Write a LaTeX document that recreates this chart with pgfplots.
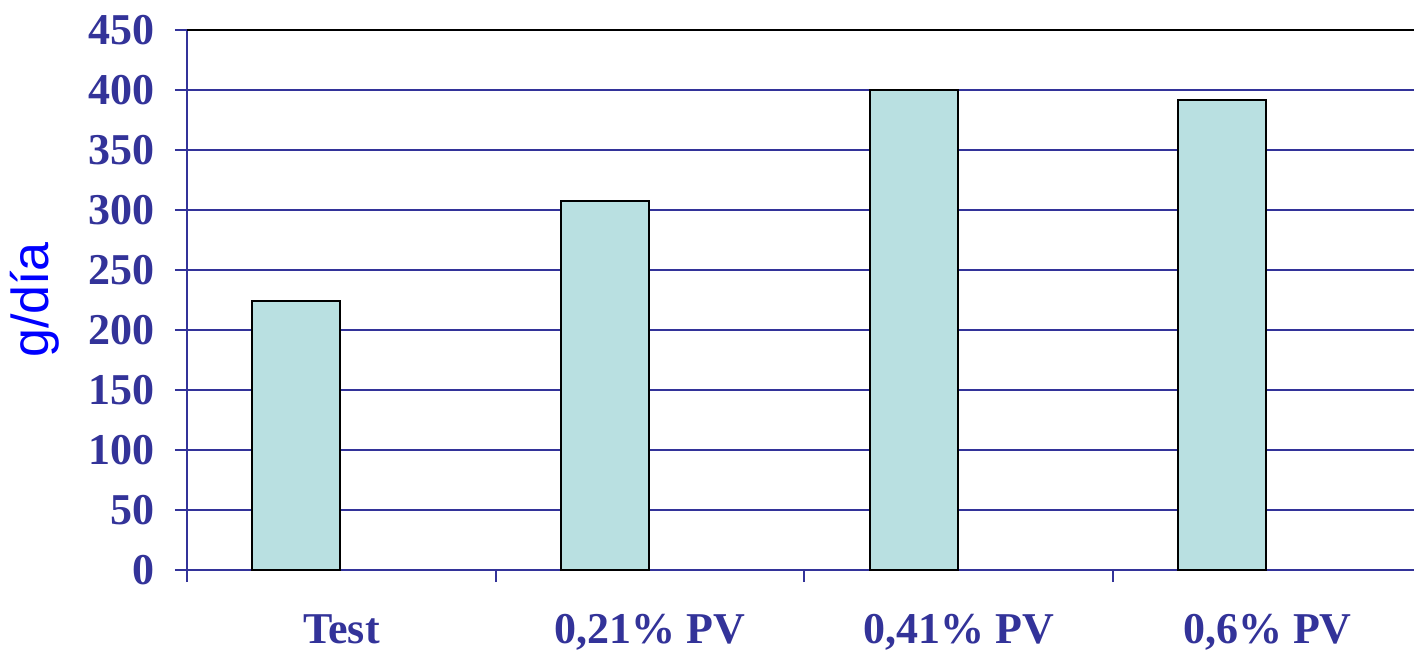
\documentclass[border=0pt]{standalone}
\usepackage{fontspec}
\setmainfont{Liberation Serif}
\newfontfamily\labelfont{Liberation Sans}
\usepackage{pgfplots}
\pgfplotsset{compat=1.18}

\definecolor{axiscol}{HTML}{333399}
\definecolor{barfill}{HTML}{B9E0E1}
\definecolor{labelblue}{HTML}{0000FF}

\begin{document}
\begin{tikzpicture}
\useasboundingbox (-46.75bp,-20.25bp) rectangle (306.75bp,142.5bp);
\begin{axis}[
    at={(0,0)}, anchor=south west,
    scale only axis,
    width=306.75bp, height=135bp,
    xmin=-0.5, xmax=3.475,
    ymin=0, ymax=450,
    ytick={0,50,...,450},
    xtick={0,1,2,3},
    xticklabels={Test, {0,21\% PV}, {0,41\% PV}, {0,6\% PV}},
    axis x line*=bottom,
    axis y line*=left,
    axis line style={-, draw=axiscol, line width=0.6bp},
    ymajorgrids,
    grid style={draw=axiscol, line width=0.4bp},
    tick align=outside,
    major tick length=3bp,
    ytick style={draw=axiscol, line width=0.5bp},
    xtick style={draw=none},
    extra x ticks={-0.5,0.5,1.5,2.5},
    extra x tick labels={},
    extra x tick style={xtick style={draw=axiscol, line width=0.5bp}, major tick length=3bp},
    /pgf/number format/assume math mode=true,
    tick label style={font=\fontsize{11bp}{13bp}\selectfont\bfseries, text=axiscol},
    yticklabel style={anchor=east, inner sep=0pt, xshift=-5bp},
    xticklabel style={anchor=base, inner sep=0pt, yshift=-15.4bp},
    ylabel={g/día},
    ylabel style={font=\labelfont\fontsize{13bp}{15bp}\selectfont, text=labelblue,
                  at={(axis description cs:-0.124,0.5)}, anchor=center, rotate=0},
    clip=false,
]
\addplot[ybar, bar width=0.285, bar shift=-0.146, fill=barfill, draw=black, line width=0.5bp]
  coordinates {(0,224) (1,307.5) (2,400) (3,391.5)};
\draw[black, line width=0.5bp] (rel axis cs:0,1) -- (rel axis cs:1,1);
\end{axis}
\end{tikzpicture}
\end{document}
